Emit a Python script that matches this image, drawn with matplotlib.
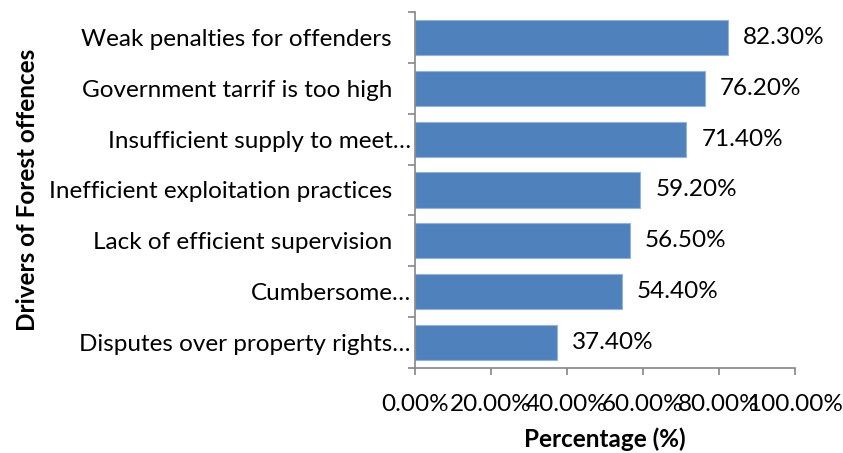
import matplotlib
matplotlib.use("Agg")
import matplotlib.pyplot as plt
import numpy as np

# data (top to bottom)
drivers = ["Weak penalties for offenders   ",
           "Government tarrif is too high   ",
           "Insufficient supply to meet\u2026",
           "Inefficient exploitation practices   ",
           "Lack of efficient supervision   ",
           "Cumbersome\u2026",
           "Disputes over property rights\u2026"]
percent = [82.3, 76.2, 71.4, 59.2, 56.5, 54.4, 37.4]
xticks = [0, 20, 40, 60, 80, 100]

plt.rcParams['font.family'] = ['Lato', 'DejaVu Sans']
fsize = 17.5
axcol = '#868686'

fig = plt.figure(figsize=(8.43, 4.53), dpi=100)
ax = fig.add_axes([0.4923, 0.1876, 0.4508, 0.786])

y = np.arange(len(drivers))
ax.barh(y, percent, height=0.69, color='#4F81BD', edgecolor='#95B3D7', linewidth=0.8)
for yi, v in zip(y, percent):
    ax.annotate('%.2f%%' % v, (v, yi), xytext=(11, 0), textcoords='offset points',
                va='center', ha='left', fontsize=fsize)

ax.set_ylim(len(drivers) - 0.5, -0.5)
ax.set_xlim(0, 100)
ax.set_yticks(y)
ax.set_yticklabels(drivers, fontsize=fsize)
ax.set_yticks(np.arange(len(drivers) + 1) - 0.5, minor=True)
ax.tick_params(axis='y', which='major', length=0, pad=3)
ax.tick_params(axis='y', which='minor', length=5, color=axcol, width=1.2)
ax.set_xticks(xticks)
ax.set_xticklabels(['%.2f%%' % t for t in xticks], fontsize=fsize)
ax.tick_params(axis='x', length=5, color=axcol, width=1.2, pad=14)

for s in ['top', 'right']:
    ax.spines[s].set_visible(False)
for s in ['left', 'bottom']:
    ax.spines[s].set_color(axcol)
    ax.spines[s].set_linewidth(1.2)

ax.set_xlabel('Percentage (%)', fontsize=fsize, fontweight='bold', labelpad=9)
fig.text(0.033, 0.58, 'Drivers of Forest offences', rotation=90, fontsize=fsize,
         fontweight='bold', ha='center', va='center')

plt.savefig('out.png', dpi=100)
